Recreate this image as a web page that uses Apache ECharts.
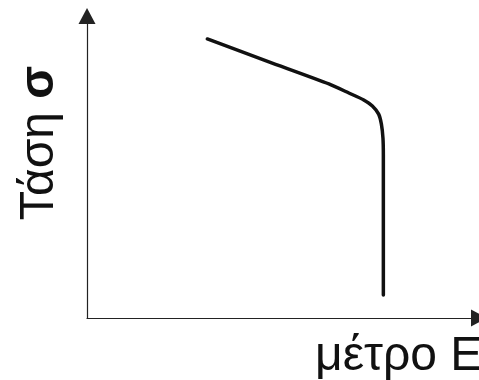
<!DOCTYPE html>
<html>
<head>
<meta charset="utf-8">
<script src="https://cdn.jsdelivr.net/npm/echarts@6/dist/echarts.min.js"></script>
<style>html,body{margin:0;padding:0;background:#fff;}#c{width:479px;height:380px;}</style>
</head>
<body>
<div id="c"></div>
<script>
// Curve (axis units 0-100, no ticks shown)
const strainE = [30.7, 46.4, 61.7, 66.8, 70.6, 72.8, 74.4, 75.1, 75.5, 75.6, 75.6];
const stressS = [92.4, 84.8, 77.5, 74.5, 72.2, 70.2, 67.5, 64.2, 59.6, 54.0, 7.6];
const xLabel = 'μέτρο Ε';
const yLabelMain = 'Τάση ';
const yLabelSym = 'σ';

const chart = echarts.init(document.getElementById('c'), null, {renderer: 'canvas'});
const axisCommon = {
  type: 'value', min: 0, max: 100,
  axisTick: {show: false}, axisLabel: {show: false}, splitLine: {show: false},
  axisLine: {show: true, symbol: ['none', 'triangle'], symbolSize: [17, 16],
    lineStyle: {color: '#222', width: 1.2}}
};
chart.setOption({
  animation: false,
  backgroundColor: '#fff',
  grid: {left: 87, right: -2, top: 16, bottom: 62},
  xAxis: Object.assign({}, axisCommon),
  yAxis: Object.assign({}, axisCommon),
  series: [{
    type: 'line',
    data: strainE.map((x, i) => [x, stressS[i]]),
    showSymbol: false,
    smooth: 0.2,
    lineStyle: {color: '#111', width: 3.5, cap: 'round', join: 'round'}
  }],
  graphic: [
    {type: 'text', x: 40, y: 143, rotation: Math.PI / 2,
      style: {text: '{a|' + yLabelMain + '}{b|' + yLabelSym + '}', align: 'center', verticalAlign: 'middle',
        rich: {
          a: {fontFamily: 'Liberation Sans, Arial, sans-serif', fontSize: 48, fill: '#111'},
          b: {fontFamily: 'Liberation Sans, Arial, sans-serif', fontSize: 48, fontWeight: 'bold', fill: '#111'}
        }}},
    {type: 'text', x: 315, y: 381,
      style: {text: xLabel, align: 'left', verticalAlign: 'bottom',
        fontFamily: 'Liberation Sans, Arial, sans-serif', fontSize: 48, fill: '#111'}}
  ]
});
</script>
</body>
</html>
